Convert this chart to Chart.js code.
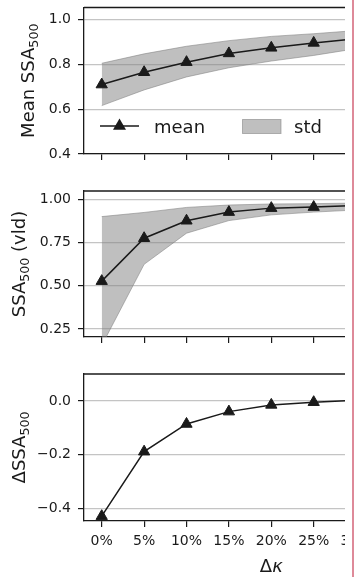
<!DOCTYPE html>
<html>
<head>
<meta charset="utf-8">
<script src="https://cdn.jsdelivr.net/npm/chart.js@4.4.1/dist/chart.umd.min.js"></script>
<style>
  html, body { margin: 0; padding: 0; background: #fff; }
  body { width: 358px; height: 577px; position: relative; overflow: hidden; }
  #plots { position: absolute; left: 0; top: 0; width: 345px; height: 577px; overflow: hidden; }
  #plots canvas { position: absolute; left: 0; display: block; }
  #edge { position: absolute; left: 352px; top: 0; width: 2px; height: 577px; background: #de8a99; }
</style>
</head>
<body>
<div id="plots">
  <canvas id="meanChart" width="480" height="170" style="top:0"></canvas>
  <canvas id="vldChart" width="480" height="170" style="top:180px"></canvas>
  <canvas id="deltaChart" width="480" height="217" style="top:360px"></canvas>
</div>
<div id="edge"></div>
<script>
// perturbation size (%)
const kappa = [0, 5, 10, 15, 20, 25, 30];
const kappaTicks = [0, 5, 10, 15, 20, 25, 30, 35, 40];

// mean SSA_500 with +/- std band
const meanSSA   = [0.710, 0.765, 0.810, 0.849, 0.874, 0.896, 0.914];
const meanUpper = [0.805, 0.847, 0.881, 0.906, 0.925, 0.937, 0.951];
const meanLower = [0.616, 0.686, 0.744, 0.785, 0.815, 0.840, 0.870];
const meanTicks = [0.4, 0.6, 0.8, 1.0];

// SSA_500 on the validation set
const vldSSA   = [0.527, 0.775, 0.876, 0.926, 0.949, 0.955, 0.964];
const vldUpper = [0.900, 0.924, 0.953, 0.967, 0.973, 0.975, 0.978];
const vldLower = [0.155, 0.624, 0.804, 0.877, 0.910, 0.926, 0.938];
const vldTicks = [0.25, 0.5, 0.75, 1.0];

// change in SSA_500
const deltaSSA   = [-0.429, -0.189, -0.086, -0.040, -0.015, -0.005, 0.002];
const deltaTicks = [-0.4, -0.2, 0.0];

const family = "'DejaVu Sans', sans-serif";
const ink = '#1a1a1a';
const gridColor = '#c4c4c4';
const bandFill = 'rgba(128,128,128,0.5)';
const bandEdge = 'rgba(128,128,128,0.55)';
const labelSize = 18;
const tickSize = 14;

function pts(ys) {
    return kappa.map((k, i) => ({ x: k, y: ys[i] }));
}

function fmt(digits) {
    return v => (v < 0 ? '\u2212' : '') + Math.abs(v).toFixed(digits);
}

function triangle(ctx, x, y, r) {
    const s = Math.sin(Math.PI / 3) * r;
    ctx.beginPath();
    ctx.moveTo(x, y - r);
    ctx.lineTo(x + s, y + r / 2);
    ctx.lineTo(x - s, y + r / 2);
    ctx.closePath();
    ctx.fill();
}

// text runs with subscripts, e.g. [['SSA'], ['500', true]]
function drawRuns(ctx, runs, x, y) {
    const subSize = labelSize * 0.7;
    let cx = x;
    runs.forEach(([text, sub, italic]) => {
        ctx.font = (italic ? 'italic ' : '') + (sub ? subSize : labelSize) + 'px ' + family;
        ctx.fillText(text, cx, sub ? y + 4 : y);
        cx += ctx.measureText(text).width;
    });
}

function runsWidth(ctx, runs) {
    const subSize = labelSize * 0.7;
    return runs.reduce((w, [text, sub, italic]) => {
        ctx.font = (italic ? 'italic ' : '') + (sub ? subSize : labelSize) + 'px ' + family;
        return w + ctx.measureText(text).width;
    }, 0);
}

// rotated y label, baseline at a fixed distance from the canvas edge
function yTitle(runs, baseX) {
    return {
        id: 'yTitle',
        afterDraw(chart) {
            const { ctx, chartArea: a } = chart;
            ctx.save();
            ctx.fillStyle = ink;
            ctx.textBaseline = 'alphabetic';
            ctx.translate(baseX, (a.top + a.bottom) / 2);
            ctx.rotate(-Math.PI / 2);
            drawRuns(ctx, runs, -runsWidth(ctx, runs) / 2, 0);
            ctx.restore();
        }
    };
}

// x label under the last panel
function xTitle(runs, dy) {
    return {
        id: 'xTitle',
        afterDraw(chart) {
            const { ctx, chartArea: a } = chart;
            const s = chart.scales.x;
            ctx.save();
            ctx.fillStyle = ink;
            ctx.textBaseline = 'alphabetic';
            const cx = (s.getPixelForValue(s.min) + s.getPixelForValue(s.max)) / 2;
            drawRuns(ctx, runs, cx - runsWidth(ctx, runs) / 2, a.bottom + dy);
            ctx.restore();
        }
    };
}

// matplotlib-style top spine
const topSpine = {
    id: 'topSpine',
    afterDraw(chart) {
        const { ctx, chartArea: a } = chart;
        ctx.save();
        ctx.strokeStyle = ink;
        ctx.lineWidth = 1.3;
        ctx.beginPath();
        ctx.moveTo(a.left, a.top);
        ctx.lineTo(a.right, a.top);
        ctx.stroke();
        ctx.restore();
    }
};

// legend drawn inside the first panel, lower left
const bandLegend = {
    id: 'bandLegend',
    afterDraw(chart) {
        const { ctx, chartArea: a } = chart;
        const ds = chart.data.datasets;
        const y = a.bottom - 28;
        const x0 = a.left + 16;
        ctx.save();
        ctx.strokeStyle = ink;
        ctx.fillStyle = ink;
        ctx.lineWidth = 1.5;
        ctx.beginPath();
        ctx.moveTo(x0, y);
        ctx.lineTo(x0 + 39, y);
        ctx.stroke();
        triangle(ctx, x0 + 19.5, y, 7.5);

        ctx.font = labelSize + 'px ' + family;
        ctx.textBaseline = 'alphabetic';
        ctx.fillText(ds[0].label, x0 + 54, a.bottom - 21);

        ctx.fillStyle = bandFill;
        ctx.fillRect(a.left + 158.5, y - 6.5, 38.5, 14);
        ctx.strokeStyle = bandEdge;
        ctx.lineWidth = 1;
        ctx.strokeRect(a.left + 158.5, y - 6.5, 38.5, 14);
        ctx.fillStyle = ink;
        ctx.fillText(ds[2].label, a.left + 210, a.bottom - 21);
        ctx.restore();
    }
};

function datasets(mean, upper, lower) {
    const list = [{
        label: 'mean',
        data: pts(mean),
        borderColor: ink,
        borderWidth: 1.5,
        pointStyle: 'triangle',
        pointRadius: 6.5,
        pointBackgroundColor: ink,
        pointBorderColor: ink,
        pointBorderWidth: 1,
        fill: false
    }];
    if (upper) {
        list.push({
            label: 'upper',
            data: pts(upper),
            borderColor: bandEdge,
            borderWidth: 1,
            pointRadius: 0,
            fill: false
        });
        list.push({
            label: 'std',
            data: pts(lower),
            borderColor: bandEdge,
            borderWidth: 1,
            pointRadius: 0,
            backgroundColor: bandFill,
            fill: '-1'
        });
    }
    return list;
}

function options(cfg) {
    return {
        responsive: false,
        animation: false,
        events: [],
        layout: { padding: { left: 0, right: 21.4, top: cfg.padTop, bottom: cfg.padBottom } },
        plugins: { legend: { display: false }, tooltip: { enabled: false } },
        scales: {
            x: {
                type: 'linear',
                min: -2.09,
                max: 42.09,
                bounds: 'data',
                afterBuildTicks: ax => { ax.ticks = kappaTicks.map(v => ({ value: v })); },
                afterFit: ax => { ax.height = cfg.xHeight; ax.paddingLeft = 0; ax.paddingRight = 0; },
                grid: { drawOnChartArea: false, drawTicks: true, tickLength: 6, tickColor: ink, lineWidth: 1.2 },
                border: { color: ink, width: 1.3 },
                ticks: {
                    display: cfg.showX,
                    autoSkip: false,
                    maxRotation: 0,
                    padding: 6,
                    color: ink,
                    font: { family: family, size: tickSize },
                    callback: v => v + '%'
                }
            },
            y: {
                min: cfg.yMin,
                max: cfg.yMax,
                bounds: 'data',
                afterBuildTicks: ax => { ax.ticks = cfg.yTicks.map(v => ({ value: v })); },
                afterFit: ax => { ax.width = 84; ax.paddingTop = 0; ax.paddingBottom = 0; },
                grid: { color: gridColor, tickColor: ink, tickLength: 6, lineWidth: 1.2 },
                border: { color: ink, width: 1.3 },
                ticks: {
                    padding: 7,
                    color: ink,
                    font: { family: family, size: tickSize },
                    callback: fmt(cfg.digits)
                }
            }
        }
    };
}

new Chart(document.getElementById('meanChart'), {
    type: 'line',
    data: { datasets: datasets(meanSSA, meanUpper, meanLower) },
    options: options({
        yMin: 0.4, yMax: 1.054, yTicks: meanTicks, digits: 1,
        padTop: 6, padBottom: 5, xHeight: 11, showX: false
    }),
    plugins: [topSpine, bandLegend, yTitle([['Mean SSA'], ['500', true]], 34)]
});

new Chart(document.getElementById('vldChart'), {
    type: 'line',
    data: { datasets: datasets(vldSSA, vldUpper, vldLower) },
    options: options({
        yMin: 0.204, yMax: 1.048, yTicks: vldTicks, digits: 2,
        padTop: 11, padBottom: 2, xHeight: 11, showX: false
    }),
    plugins: [topSpine, yTitle([['SSA'], ['500', true], [' (vld)']], 25)]
});

new Chart(document.getElementById('deltaChart'), {
    type: 'line',
    data: { datasets: datasets(deltaSSA) },
    options: options({
        yMin: -0.447, yMax: 0.1, yTicks: deltaTicks, digits: 1,
        padTop: 14, padBottom: 0, xHeight: 56, showX: true
    }),
    plugins: [topSpine, yTitle([['\u0394SSA'], ['500', true]], 25),
              xTitle([['\u0394'], ['\u03ba', false, true]], 50.7)]
});
</script>
</body>
</html>
